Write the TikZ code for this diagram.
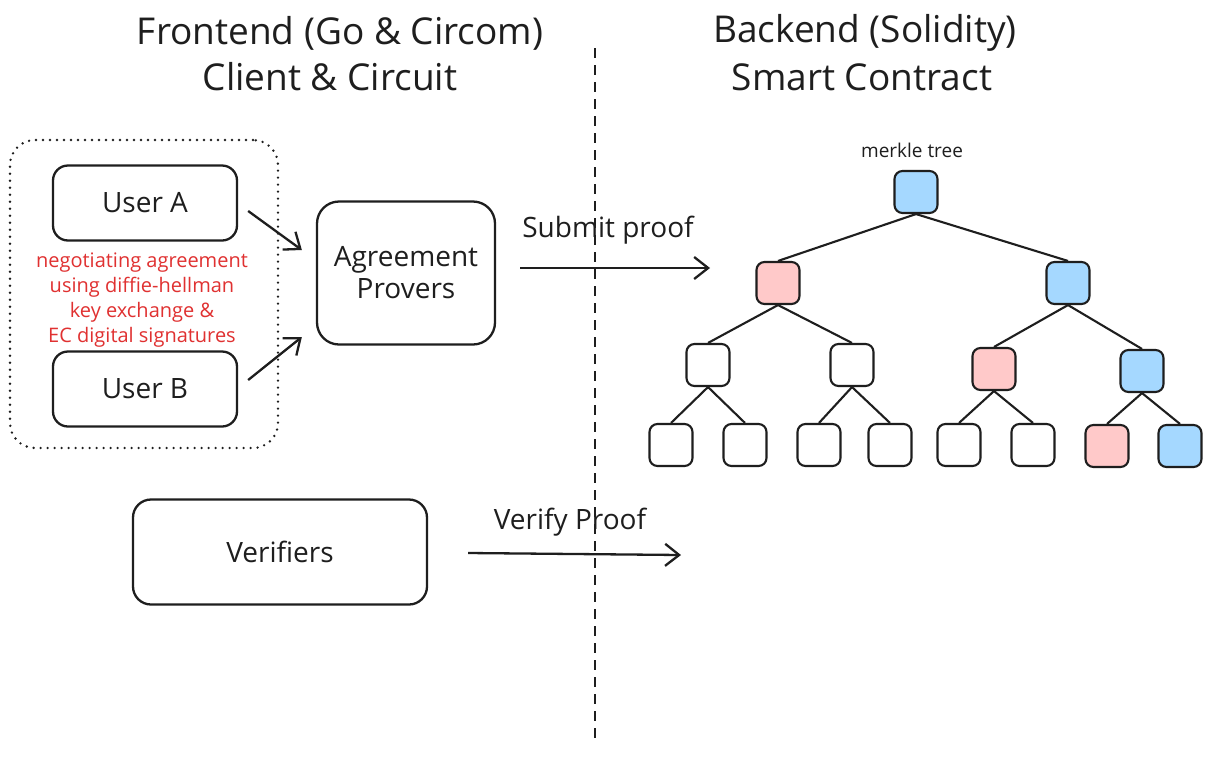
\documentclass[tikz,border=0pt]{standalone}
\usepackage{fontspec}
\setmainfont{Open Sans}
\usetikzlibrary{arrows.meta,calc}
\definecolor{redtxt}{HTML}{E03131}
\definecolor{treeblue}{HTML}{A5D8FF}
\definecolor{treepink}{HTML}{FFC9C9}
\definecolor{ink}{HTML}{1E1E1E}
\begin{document}
\begin{tikzpicture}[x=1pt,y=-1pt,
  title/.style={text=ink,font=\fontsize{37}{44}\selectfont,inner sep=0pt},
  box/.style={draw=ink,line width=2.3pt,rounded corners=15pt,align=center,inner sep=0pt,text=ink,font=\fontsize{28}{36}\selectfont},
  tnode/.style={draw=ink,line width=2.1pt,rounded corners=8pt,minimum width=43pt,minimum height=42pt,inner sep=0pt,fill=white},
  tedge/.style={draw=ink,line width=2.1pt},
  arr/.style={draw=ink,line width=2.3pt,-{Straight Barb[length=14pt,width=22pt,line width=2.3pt]}},
  lbl/.style={text=ink,font=\fontsize{28}{32}\selectfont,inner sep=0pt}]
\useasboundingbox[fill=white] (0,0) rectangle (1209,761);

% titles
\node[title] (t1) at (340,33) {Frontend (Go \& Circom)};
\node[title] (t2) at (330,77) {Client \& Circuit};
\node[title] (t3) at (865,33) {Backend (Solidity)};
\node[title] (t4) at (862,77) {Smart Contract};

% divider
\coordinate (d1) at (595,48);
\coordinate (d2) at (595,745);
\draw[draw=ink,line width=2.3pt,dash pattern=on 10pt off 7pt] (d1) -- (d2);

% group
\node[draw=ink,line width=2.6pt,line cap=round,dash pattern=on 0pt off 7pt,rounded corners=25pt,minimum width=268pt,minimum height=308pt,inner sep=0pt] (grp) at (144,294) {};

\node[box,minimum width=184pt,minimum height=75pt] (ua) at (145,203) {User A};
\node[box,minimum width=184pt,minimum height=75pt] (ub) at (145,389) {User B};
\node[text=redtxt,align=center,font=\fontsize{20}{25}\selectfont,inner sep=0pt] (neg) at (142,300)
  {negotiating agreement\\using diffie-hellman\\key exchange \&\\EC digital signatures};

\node[box,rounded corners=22pt,minimum width=178pt,minimum height=143pt] (ag) at (406,273) {Agreement\\[-4pt]Provers};

\draw[arr] ($(ua.east)+(10,8)$) -- ($(ag.west)+(-14,-23)$);
\draw[arr] ($(ub.east)+(10,-9)$) -- ($(ag.west)+(-14,64)$);

\coordinate (sp) at (710,268);
\draw[arr] ($(ag.east)+(24,-5)$) -- (sp);
\node[lbl] (spl) at (608,230) {Submit proof};

\node[box,rounded corners=18pt,minimum width=294pt,minimum height=105pt] (ver) at (280,552) {Verifiers};
\coordinate (vp) at (681,555);
\draw[arr] ($(ver.east)+(40,1)$) -- (vp);
\node[lbl] (vpl) at (570,522) {Verify Proof};

% merkle tree
\node[text=ink,font=\fontsize{19}{22}\selectfont,inner sep=0pt] (mt) at (912,150) {merkle tree};
\node[tnode,fill=treeblue] (r) at (916,192) {};
\node[tnode,fill=treepink] (a) at (778,283) {};
\node[tnode,fill=treeblue] (b) at (1068,283) {};
\node[tnode] (aa) at (708,365) {};
\node[tnode] (ab) at (852,365) {};
\node[tnode,fill=treepink] (ba) at (994,369) {};
\node[tnode,fill=treeblue] (bb) at (1142,371) {};
\node[tnode] (aaa) at (671,445) {};
\node[tnode] (aab) at (745,445) {};
\node[tnode] (aba) at (819,445) {};
\node[tnode] (abb) at (890,445) {};
\node[tnode] (baa) at (959,445) {};
\node[tnode] (bab) at (1033,445) {};
\node[tnode,fill=treepink] (bba) at (1107,446) {};
\node[tnode,fill=treeblue] (bbb) at (1180,446) {};

\draw[tedge] (r.south) -- (a.north);
\draw[tedge] (r.south) -- (b.north);
\draw[tedge] (a.south) -- (aa.north);
\draw[tedge] (a.south) -- (ab.north);
\draw[tedge] (b.south) -- (ba.north);
\draw[tedge] (b.south) -- (bb.north);
\draw[tedge] (aa.south) -- (aaa.north);
\draw[tedge] (aa.south) -- (aab.north);
\draw[tedge] (ab.south) -- (aba.north);
\draw[tedge] (ab.south) -- (abb.north);
\draw[tedge] (ba.south) -- (baa.north);
\draw[tedge] (ba.south) -- (bab.north);
\draw[tedge] (bb.south) -- (bba.north);
\draw[tedge] (bb.south) -- (bbb.north);
\end{tikzpicture}
\end{document}
